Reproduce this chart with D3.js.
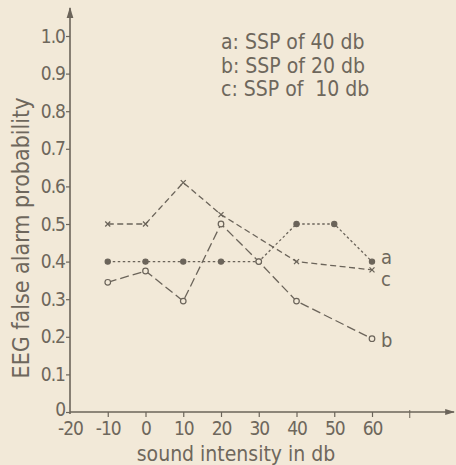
<!DOCTYPE html>
<html>
<head>
<meta charset="utf-8">
<script src="https://cdn.jsdelivr.net/npm/d3@7"></script>
<style>
  body { margin: 0; background: #f2e9d8; }
  svg text { font-family: "DejaVu Sans", sans-serif; font-stretch: condensed; fill: #6e675c; }
</style>
</head>
<body>
<div id="chart"></div>
<script>
// sound intensity (db) for each series
const xA = [-10, 0, 10, 20, 30, 40, 50, 60];
const valsA = [0.40, 0.40, 0.40, 0.40, 0.40, 0.50, 0.50, 0.40];

const xB = [-10, 0, 10, 20, 30, 40, 60];
const valsB = [0.345, 0.375, 0.295, 0.50, 0.40, 0.295, 0.195];

const xC = [-10, 0, 10, 20, 40, 60];
const valsC = [0.50, 0.50, 0.61, 0.525, 0.40, 0.378];

const xTicks = [-20, -10, 0, 10, 20, 30, 40, 50, 60];
const yTicks = [0, 0.1, 0.2, 0.3, 0.4, 0.5, 0.6, 0.7, 0.8, 0.9, 1.0];
const legendLines = ["a: SSP of 40 db", "b: SSP of 20 db", "c: SSP of  10 db"];

const ink = "#6b645a";

const width = 456, height = 465;
const svg = d3.select("#chart").append("svg")
    .attr("width", width)
    .attr("height", height);

const x = d3.scaleLinear().domain([-20, 60]).range([70, 372]);
const y = d3.scaleLinear().domain([0, 1]).range([412, 36]);

// arrow head
svg.append("defs").append("marker")
    .attr("id", "arrow")
    .attr("viewBox", "0 0 10 10")
    .attr("refX", 9).attr("refY", 5)
    .attr("markerWidth", 7).attr("markerHeight", 7)
    .attr("orient", "auto")
    .append("path")
    .attr("d", "M0,2 L10,5 L0,8 Z")
    .attr("fill", ink);

// axis lines
svg.append("line")
    .attr("x1", x(-20)).attr("y1", y(0) + 2)
    .attr("x2", x(-20)).attr("y2", 8)
    .attr("stroke", ink).attr("stroke-width", 1.6)
    .attr("marker-end", "url(#arrow)");

svg.append("line")
    .attr("x1", x(-20)).attr("y1", y(0))
    .attr("x2", 454).attr("y2", y(0))
    .attr("stroke", ink).attr("stroke-width", 1.4)
    .attr("marker-end", "url(#arrow)");

// stray tick past 60
svg.append("line")
    .attr("x1", x(70)).attr("x2", x(70))
    .attr("y1", y(0) - 2).attr("y2", y(0) + 6)
    .attr("stroke", ink).attr("stroke-width", 1);

const yAxis = d3.axisLeft(y)
    .tickValues(yTicks)
    .tickSize(4)
    .tickPadding(1)
    .tickFormat(d => d === 0 ? "0" : d3.format(".1f")(d));

const yAxisGroup = svg.append("g")
    .attr("transform", "translate(" + x(-20) + ",0)")
    .call(yAxis);

const xAxis = d3.axisBottom(x)
    .tickValues(xTicks)
    .tickSize(5)
    .tickPadding(2)
    .tickFormat(d => d < 0 ? "-" + Math.abs(d) : d);

const xAxisGroup = svg.append("g")
    .attr("transform", "translate(0," + y(0) + ")")
    .call(xAxis);

[yAxisGroup, xAxisGroup].forEach(g => {
    g.select(".domain").remove();
    g.selectAll(".tick line").attr("stroke", ink).attr("stroke-width", 1.2);
    g.selectAll(".tick text")
        .attr("fill", ink)
        .style("font-size", "19px")
        .style("letter-spacing", "-1px");
});
xAxisGroup.selectAll(".tick text").attr("y", 10).attr("dy", "0.71em");
xAxisGroup.selectAll(".tick").filter(d => d === -20).select("line").remove();
yAxisGroup.selectAll(".tick").filter(d => d === 0).select("text").attr("dy", "0.2em");

// axis titles
svg.append("text")
    .attr("x", 236).attr("y", 461)
    .attr("text-anchor", "middle")
    .style("font-size", "21px")
    .text("sound intensity in db");

svg.append("text")
    .attr("transform", "translate(29,238) rotate(-90)")
    .attr("text-anchor", "middle")
    .style("font-size", "23px")
    .text("EEG false alarm probability");

// legend
svg.selectAll("text.legend")
    .data(legendLines)
    .enter()
    .append("text")
    .attr("class", "legend")
    .attr("x", 221)
    .attr("y", (d, i) => 49 + i * 23.5)
    .style("font-size", "21px")
    .style("white-space", "pre")
    .text(d => d);

// series
const series = [
    {name: "a", xs: xA, vals: valsA, dash: "2.5,2.5", marker: "dot", labelDy: 2},
    {name: "b", xs: xB, vals: valsB, dash: "9,4", marker: "ring", labelDy: 8},
    {name: "c", xs: xC, vals: valsC, dash: "6,3.5", marker: "cross", labelDy: 16}
];

const line = d3.line()
    .x(d => x(d[0]))
    .y(d => y(d[1]));

series.forEach(s => {
    const pts = s.xs.map((v, i) => [v, s.vals[i]]);

    svg.append("path")
        .datum(pts)
        .attr("d", line)
        .attr("fill", "none")
        .attr("stroke", ink)
        .attr("stroke-width", 1.3)
        .attr("stroke-dasharray", s.dash);

    if (s.marker === "cross") {
        svg.selectAll("path.cross-" + s.name)
            .data(pts)
            .enter()
            .append("path")
            .attr("class", "cross-" + s.name)
            .attr("d", d => {
                let cx = x(d[0]), cy = y(d[1]), r = 2.5;
                return "M" + (cx - r) + "," + (cy - r) + "L" + (cx + r) + "," + (cy + r) +
                    "M" + (cx - r) + "," + (cy + r) + "L" + (cx + r) + "," + (cy - r);
            })
            .attr("stroke", ink)
            .attr("stroke-width", 1.3);
    } else {
        svg.selectAll("circle.pt-" + s.name)
            .data(pts)
            .enter()
            .append("circle")
            .attr("class", "pt-" + s.name)
            .attr("cx", d => x(d[0]))
            .attr("cy", d => y(d[1]))
            .attr("r", s.marker === "dot" ? 2.6 : 2.8)
            .attr("fill", s.marker === "dot" ? ink : "#f2e9d8")
            .attr("stroke", ink)
            .attr("stroke-width", 1.2);
    }

    const last = pts[pts.length - 1];
    svg.append("text")
        .attr("x", x(last[0]) + 9)
        .attr("y", y(last[1]) + s.labelDy)
        .style("font-size", "20px")
        .text(s.name);
});
</script>
</body>
</html>
